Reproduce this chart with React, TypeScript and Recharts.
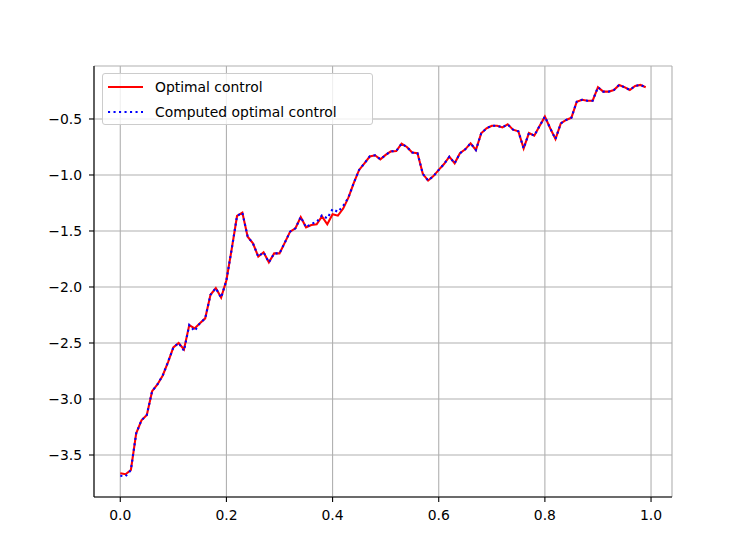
import { CartesianGrid, Legend, Line, LineChart, XAxis, YAxis } from "recharts";

// time grid (t = 0.00 .. 0.99)
const tValues = [
  0.0, 0.01, 0.02, 0.03, 0.04, 0.05, 0.06, 0.07, 0.08, 0.09,
  0.1, 0.11, 0.12, 0.13, 0.14, 0.15, 0.16, 0.17, 0.18, 0.19,
  0.2, 0.21, 0.22, 0.23, 0.24, 0.25, 0.26, 0.27, 0.28, 0.29,
  0.3, 0.31, 0.32, 0.33, 0.34, 0.35, 0.36, 0.37, 0.38, 0.39,
  0.4, 0.41, 0.42, 0.43, 0.44, 0.45, 0.46, 0.47, 0.48, 0.49,
  0.5, 0.51, 0.52, 0.53, 0.54, 0.55, 0.56, 0.57, 0.58, 0.59,
  0.6, 0.61, 0.62, 0.63, 0.64, 0.65, 0.66, 0.67, 0.68, 0.69,
  0.7, 0.71, 0.72, 0.73, 0.74, 0.75, 0.76, 0.77, 0.78, 0.79,
  0.8, 0.81, 0.82, 0.83, 0.84, 0.85, 0.86, 0.87, 0.88, 0.89,
  0.9, 0.91, 0.92, 0.93, 0.94, 0.95, 0.96, 0.97, 0.98, 0.99,
];

const optimalControl = [
  -3.663, -3.672, -3.634, -3.306, -3.19, -3.143, -2.93, -2.87, -2.79, -2.67,
  -2.54, -2.5, -2.557, -2.34, -2.37, -2.324, -2.28, -2.07, -2.01, -2.095,
  -1.94, -1.66, -1.366, -1.336, -1.551, -1.61, -1.729, -1.69, -1.78, -1.7,
  -1.7, -1.604, -1.506, -1.476, -1.375, -1.467, -1.446, -1.44, -1.37, -1.44,
  -1.351, -1.363, -1.3, -1.2, -1.07, -0.955, -0.896, -0.835, -0.824, -0.86,
  -0.821, -0.789, -0.786, -0.72, -0.75, -0.8, -0.805, -0.99, -1.05, -1.01,
  -0.955, -0.902, -0.836, -0.896, -0.806, -0.771, -0.717, -0.777, -0.628, -0.583,
  -0.56, -0.56, -0.575, -0.548, -0.595, -0.61, -0.762, -0.625, -0.649, -0.5625,
  -0.479, -0.583, -0.679, -0.539, -0.509, -0.488, -0.346, -0.328, -0.337, -0.337,
  -0.216, -0.256, -0.256, -0.241, -0.196, -0.216, -0.241, -0.205, -0.196, -0.216,
];

const computedControl = [
  -3.685, -3.69, -3.634, -3.306, -3.19, -3.143, -2.93, -2.87, -2.79, -2.67,
  -2.54, -2.5, -2.57, -2.34, -2.393, -2.324, -2.28, -2.07, -2.01, -2.095,
  -1.94, -1.66, -1.366, -1.336, -1.551, -1.61, -1.729, -1.69, -1.78, -1.7,
  -1.7, -1.604, -1.506, -1.476, -1.375, -1.467, -1.435, -1.42, -1.36, -1.387,
  -1.304, -1.33, -1.276, -1.2, -1.07, -0.955, -0.896, -0.835, -0.824, -0.86,
  -0.821, -0.789, -0.786, -0.72, -0.75, -0.8, -0.805, -0.99, -1.05, -1.01,
  -0.955, -0.902, -0.836, -0.896, -0.806, -0.771, -0.717, -0.777, -0.628, -0.583,
  -0.56, -0.56, -0.575, -0.548, -0.595, -0.61, -0.762, -0.625, -0.649, -0.5625,
  -0.479, -0.583, -0.679, -0.539, -0.509, -0.488, -0.346, -0.328, -0.337, -0.337,
  -0.216, -0.256, -0.256, -0.241, -0.196, -0.216, -0.241, -0.205, -0.196, -0.216,
];

const xTicks = [0, 0.2, 0.4, 0.6, 0.8, 1.0];
const yTicks = [-3.5, -3.0, -2.5, -2.0, -1.5, -1.0, -0.5];
const seriesNames = ["Optimal control", "Computed optimal control"];

const data = tValues.map((t, i) => ({
  t,
  optimal: optimalControl[i],
  computed: computedControl[i],
}));

const FONT = "'DejaVu Sans', sans-serif";
const FONT_SIZE = 13.9;
const X_DOMAIN: [number, number] = [-0.0495, 1.0395];
const Y_DOMAIN: [number, number] = [-3.875, -0.027];

const fmt = (v: number) => v.toFixed(1).replace("-", "\u2212");

const legendItems = [
  { name: seriesNames[0], color: "#ff0000", dash: undefined },
  { name: seriesNames[1], color: "#0000ff", dash: "2.1 3.4" },
];

function LegendBox() {
  return (
    <div
      style={{
        position: "relative",
        width: 271,
        height: 52,
        boxSizing: "border-box",
        background: "rgba(255,255,255,0.8)",
        border: "1px solid #cccccc",
        borderRadius: 3,
        fontFamily: FONT,
        fontSize: FONT_SIZE,
        color: "#000",
      }}
    >
      {legendItems.map((item, i) => (
        <div
          key={item.name}
          style={{
            position: "absolute",
            left: 0,
            top: 1 + i * 24.7,
            height: 24,
            display: "flex",
            alignItems: "center",
            whiteSpace: "nowrap",
          }}
        >
          <svg width={52} height={24} style={{ display: "block" }}>
            <line
              x1={5}
              x2={40}
              y1={12}
              y2={12}
              stroke={item.color}
              strokeWidth={2.08}
              strokeDasharray={item.dash}
            />
          </svg>
          <span style={{ lineHeight: "24px" }}>{item.name}</span>
        </div>
      ))}
    </div>
  );
}

export default function App() {
  return (
    <div style={{ position: "absolute", left: 0, top: 0, width: 747, height: 559, background: "#fff" }}>
      <LineChart width={747} height={559} data={data} margin={{ top: 66, right: 75, bottom: 0, left: 0 }}>
        <CartesianGrid stroke="#b0b0b0" strokeWidth={1.1} />
        <XAxis
          dataKey="t"
          type="number"
          domain={X_DOMAIN}
          ticks={xTicks}
          allowDataOverflow
          height={62}
          tickSize={5}
          tickMargin={8}
          tickFormatter={fmt}
          axisLine={{ stroke: "#000", strokeWidth: 1.1 }}
          tickLine={{ stroke: "#000", strokeWidth: 1.1 }}
          tick={{ fill: "#000", fontFamily: FONT, fontSize: FONT_SIZE }}
        />
        <XAxis
          xAxisId="top"
          orientation="top"
          dataKey="t"
          type="number"
          domain={X_DOMAIN}
          ticks={xTicks}
          allowDataOverflow
          height={0}
          tick={false}
          tickLine={false}
          axisLine={{ stroke: "#000", strokeWidth: 1.1 }}
        />
        <YAxis
          type="number"
          domain={Y_DOMAIN}
          ticks={yTicks}
          allowDataOverflow
          width={94}
          tickSize={5}
          tickMargin={7}
          tickFormatter={fmt}
          axisLine={{ stroke: "#000", strokeWidth: 1.1 }}
          tickLine={{ stroke: "#000", strokeWidth: 1.1 }}
          tick={{ fill: "#000", fontFamily: FONT, fontSize: FONT_SIZE }}
        />
        <YAxis
          yAxisId="right"
          orientation="right"
          type="number"
          domain={Y_DOMAIN}
          ticks={yTicks}
          allowDataOverflow
          width={0}
          tick={false}
          tickLine={false}
          axisLine={{ stroke: "#000", strokeWidth: 1.1 }}
        />
        <Legend
          layout="vertical"
          align="center"
          verticalAlign="middle"
          content={() => <LegendBox />}
          wrapperStyle={{ left: 102, top: 73, width: 271, height: 52 }}
        />
        <Line
          type="linear"
          dataKey="optimal"
          name={seriesNames[0]}
          stroke="#ff0000"
          strokeWidth={2.08}
          dot={false}
          activeDot={false}
          isAnimationActive={false}
        />
        <Line
          type="linear"
          dataKey="computed"
          name={seriesNames[1]}
          stroke="#0000ff"
          strokeWidth={2.08}
          strokeDasharray="2.1 3.4"
          dot={false}
          activeDot={false}
          isAnimationActive={false}
        />
      </LineChart>
    </div>
  );
}
